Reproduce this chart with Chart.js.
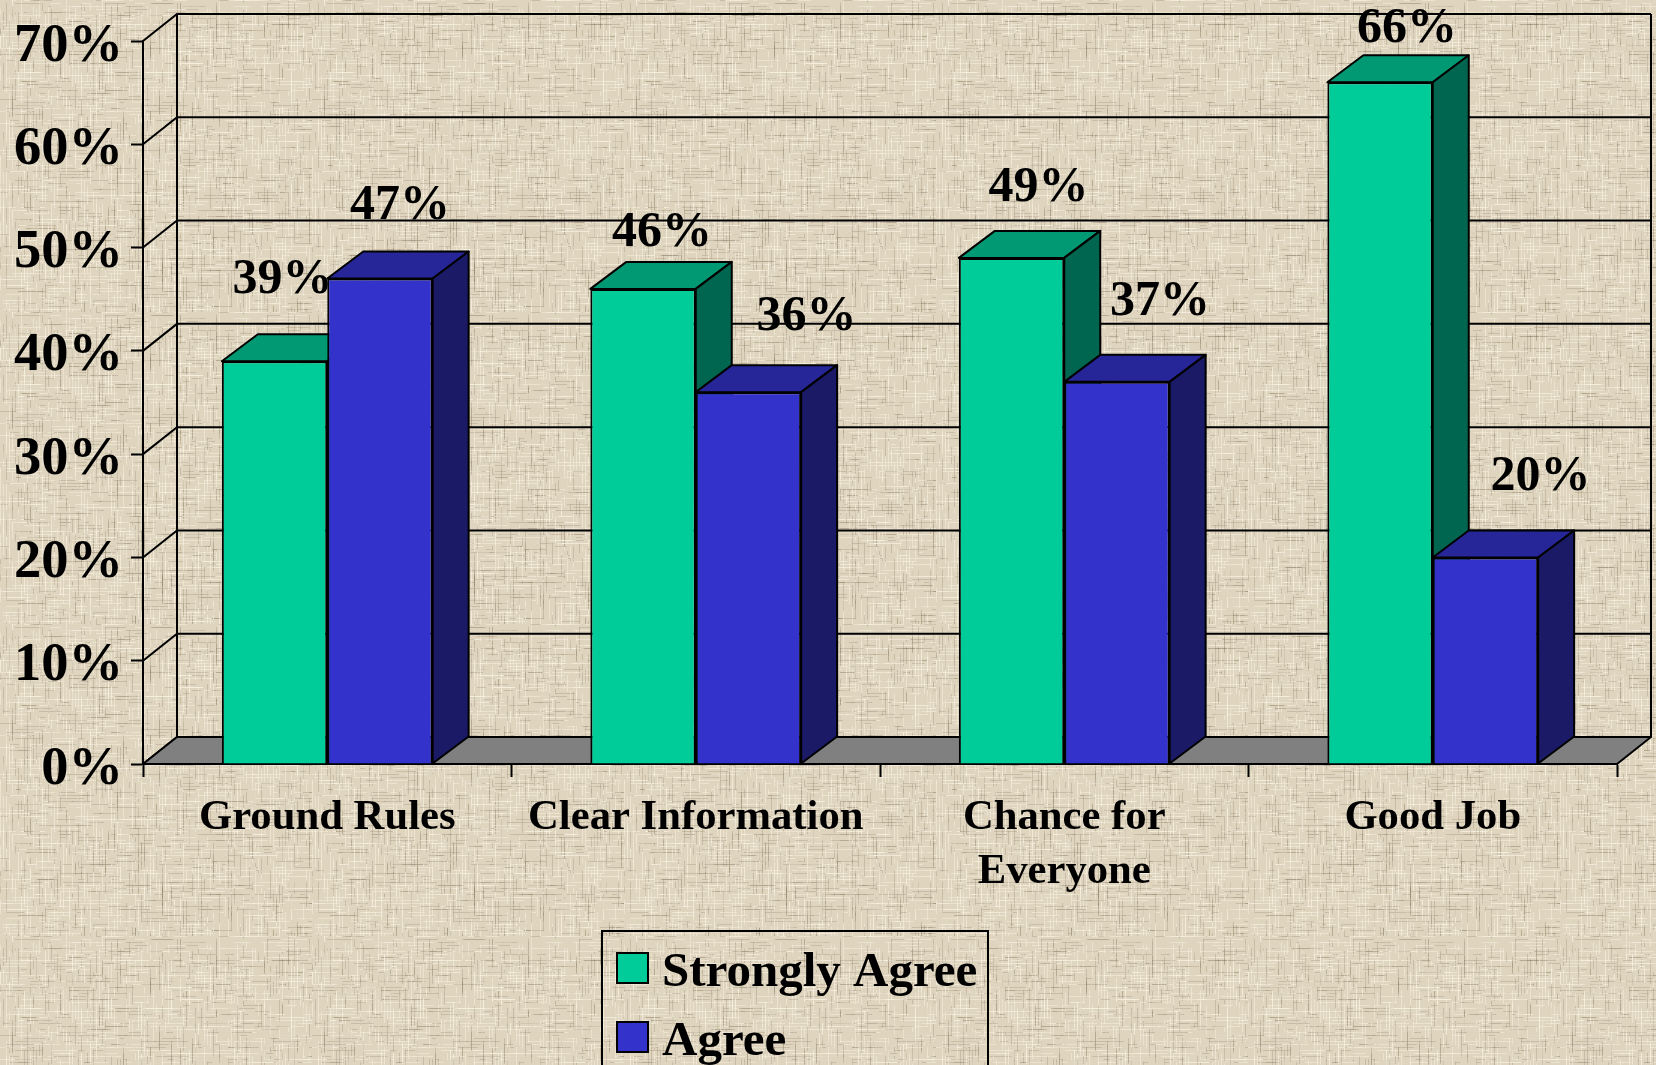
<!DOCTYPE html>
<html>
<head>
  <title>Agreement by Statement</title>
  <script src="https://cdn.jsdelivr.net/npm/chart.js"></script>
  <style>
    html, body {
      margin: 0;
      padding: 0;
      overflow: hidden;
    }
    body {
      width: 1656px;
      height: 1065px;
      background-color: #dfd5bf;
    }
    canvas { display: block; }
  </style>
</head>
<body>
  <canvas id="surveyChart" width="1656" height="1065"></canvas>

  <script>
    const categories = ['Ground Rules', 'Clear Information', ['Chance for', 'Everyone'], 'Good Job'];
    const stronglyAgree = [39, 46, 49, 66];
    const agree = [47, 36, 37, 20];

    const FONT = "'Liberation Serif', 'Times New Roman', serif";
    const wallDepth = { x: 34, y: 27 };
    const barDepth = { x: 36, y: 27 };

    // label offset from the top centre of each bar, px
    const labelNudge = [
      { x: [8, 19, 27, 27], y: [-81, -56, -70, -53] },
      { x: [20, 58, 43, 55], y: [-72, -75, -80, -80] }
    ];

    // woven paper background, short light and dark threads on a tile
    function paintPaper() {
      const tile = document.createElement('canvas');
      tile.width = 312;
      tile.height = 312;
      const t = tile.getContext('2d');
      t.fillStyle = '#dfd5bf';
      t.fillRect(0, 0, 312, 312);
      t.filter = 'blur(0.6px)';
      let h = 17;
      const next = n => {
        h = (h * 75 + 74) % 65537;
        return h % n;
      };
      for (let i = 0; i < 3200; i++) {
        const x = next(104) * 3, y = next(104) * 3, len = 4 + next(26);
        const dark = next(5) < 2;
        t.fillStyle = dark ? 'rgba(140,125,100,0.28)' : 'rgba(248,242,226,0.5)';
        if (next(2)) t.fillRect(x, y, len, 1);
        else t.fillRect(x, y, 1, len);
      }
      document.body.style.backgroundImage = 'url(' + tile.toDataURL() + ')';
    }
    paintPaper();

    function poly(ctx, pts, fill) {
      ctx.beginPath();
      pts.forEach((p, i) => i ? ctx.lineTo(p[0], p[1]) : ctx.moveTo(p[0], p[1]));
      ctx.closePath();
      if (fill) {
        ctx.fillStyle = fill;
        ctx.fill();
      }
      ctx.strokeStyle = '#000';
      ctx.lineWidth = 2;
      ctx.lineJoin = 'round';
      ctx.stroke();
    }

    function drawWalls(chart) {
      const { ctx, chartArea: a, scales: { y } } = chart;
      const dx = wallDepth.x, dy = wallDepth.y;
      ctx.save();
      ctx.strokeStyle = '#000';
      ctx.lineWidth = 2;
      y.ticks.forEach(t => {
        const py = y.getPixelForValue(t.value);
        ctx.beginPath();
        ctx.moveTo(a.left, py);
        ctx.lineTo(a.left + dx, py - dy);
        ctx.lineTo(a.right + dx, py - dy);
        ctx.stroke();
      });
      ctx.beginPath();
      ctx.moveTo(a.left + dx, a.top - dy);
      ctx.lineTo(a.left + dx, a.bottom - dy);
      ctx.moveTo(a.right + dx, a.top - dy);
      ctx.lineTo(a.right + dx, a.bottom - dy);
      ctx.stroke();
      poly(ctx, [
        [a.left, a.bottom],
        [a.right, a.bottom],
        [a.right + dx, a.bottom - dy],
        [a.left + dx, a.bottom - dy]
      ], '#808080');
      ctx.restore();
    }

    function drawBoxFaces(chart, meta) {
      const { ctx } = chart;
      const ds = chart.data.datasets[meta.index];
      const dx = barDepth.x, dy = barDepth.y;
      ctx.save();
      meta.data.forEach(bar => {
        const l = bar.x - bar.width / 2, r = bar.x + bar.width / 2;
        poly(ctx, [[l, bar.y], [r, bar.y], [r + dx, bar.y - dy], [l + dx, bar.y - dy]], ds.topColor);
        poly(ctx, [[r, bar.y], [r + dx, bar.y - dy], [r + dx, bar.base - dy], [r, bar.base]], ds.sideColor);
      });
      ctx.restore();
    }

    function drawValueLabels(chart, meta) {
      const { ctx } = chart;
      const nudge = labelNudge[meta.index];
      ctx.save();
      ctx.fillStyle = '#000';
      ctx.font = 'bold 50px ' + FONT;
      ctx.textAlign = 'center';
      ctx.textBaseline = 'middle';
      meta.data.forEach((bar, i) => {
        const v = chart.data.datasets[meta.index].data[i];
        ctx.fillText(v + '%', bar.x + nudge.x[i], bar.y + nudge.y[i]);
      });
      ctx.restore();
    }

    // chart.js paints the first dataset last, here the second one has to overlap the first
    const boxPlugin = {
      id: 'box',
      beforeDatasetsDraw(chart) {
        drawWalls(chart);
        chart.getSortedVisibleDatasetMetas().forEach(meta => {
          drawBoxFaces(chart, meta);
          meta.controller.draw();
          drawValueLabels(chart, meta);
        });
        return false;
      }
    };

    // boxed legend, runs off the bottom of the page like the original
    const legendPlugin = {
      id: 'boxLegend',
      afterDraw(chart) {
        const { ctx } = chart;
        ctx.save();
        ctx.strokeStyle = '#000';
        ctx.lineWidth = 2;
        ctx.strokeRect(602, 931, 386, 160);
        ctx.font = 'bold 49px ' + FONT;
        ctx.textBaseline = 'alphabetic';
        chart.data.datasets.forEach((ds, i) => {
          const top = 953 + i * 69;
          ctx.fillStyle = ds.backgroundColor;
          ctx.fillRect(617, top, 31, 30);
          ctx.strokeRect(617, top, 31, 30);
          ctx.fillStyle = '#000';
          ctx.fillText(ds.label, 662, top + 33);
        });
        ctx.restore();
      }
    };

    new Chart(document.getElementById('surveyChart'), {
      type: 'bar',
      data: {
        labels: categories,
        datasets: [
          {
            label: 'Strongly Agree',
            data: stronglyAgree,
            backgroundColor: '#00cc99',
            topColor: '#009973',
            sideColor: '#006650',
            borderColor: '#000',
            borderWidth: 2
          },
          {
            label: 'Agree',
            data: agree,
            backgroundColor: '#3333cc',
            topColor: '#262699',
            sideColor: '#1a1a66',
            borderColor: '#000',
            borderWidth: 2
          }
        ]
      },
      options: {
        responsive: false,
        animation: false,
        layout: { padding: { top: 41, right: 39, left: 0, bottom: 0 } },
        datasets: { bar: { barPercentage: 1, categoryPercentage: 0.572 } },
        plugins: {
          legend: { display: false },
          tooltip: { enabled: false }
        },
        scales: {
          x: {
            afterFit: s => { s.height = 301; },
            grid: { offset: true, drawOnChartArea: false, color: '#000', tickColor: '#000', tickLength: 13, tickWidth: 2 },
            border: { color: '#000', width: 2 },
            ticks: {
              color: '#000',
              autoSkip: false,
              maxRotation: 0,
              padding: 14,
              font: { family: FONT, size: 42.7, weight: 'bold', lineHeight: 1.27 }
            }
          },
          y: {
            min: 0,
            max: 70,
            afterFit: s => { s.width = 143; },
            grid: { drawOnChartArea: false, color: '#000', tickColor: '#000', tickLength: 12, tickWidth: 2 },
            border: { color: '#000', width: 2 },
            ticks: {
              stepSize: 10,
              color: '#000',
              padding: 8,
              // empty first line pushes the text a few px below its tick
              callback: v => ['', v + '%'],
              font: { family: FONT, size: 54.5, weight: 'bold', lineHeight: '11px' }
            }
          }
        }
      },
      plugins: [boxPlugin, legendPlugin]
    });
  </script>
</body>
</html>
